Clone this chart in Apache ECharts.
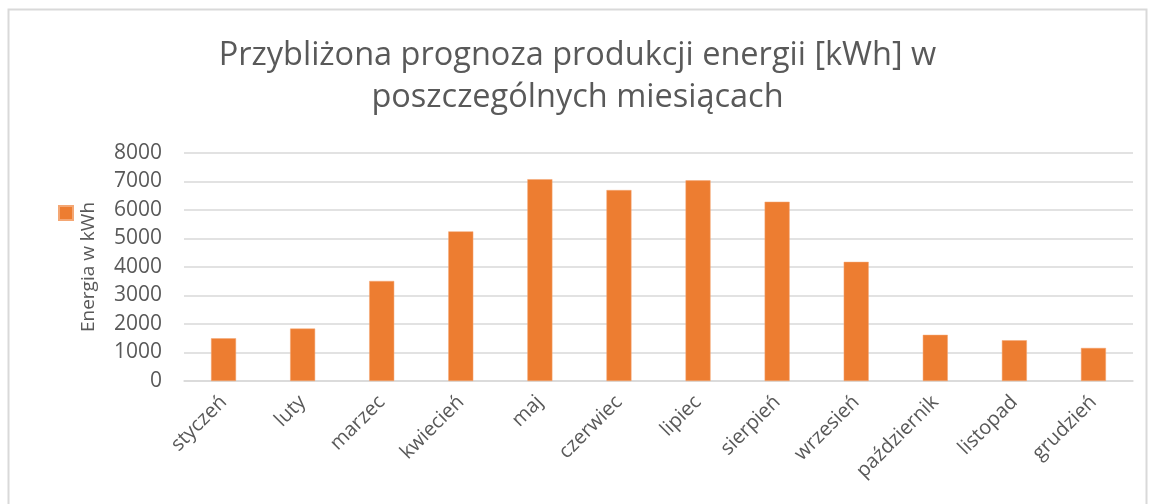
<!DOCTYPE html>
<html>
<head>
<meta charset="utf-8">
<script src="https://cdn.jsdelivr.net/npm/echarts@6/dist/echarts.min.js"></script>
<style>
  html, body { margin: 0; padding: 0; background: #fff; }
  #chart { width: 1155px; height: 504px; }
</style>
</head>
<body>
<div id="chart"></div>
<script>
// miesiące
const months = ["styczeń", "luty", "marzec", "kwiecień", "maj", "czerwiec",
  "lipiec", "sierpień", "wrzesień", "październik", "listopad", "grudzień"];
// prognoza produkcji [kWh]
const energy = [1500, 1840, 3510, 5250, 7080, 6700, 7040, 6290, 4180, 1620, 1430, 1160];
const yTicks = [0, 1000, 2000, 3000, 4000, 5000, 6000, 7000, 8000];

const textColor = '#595959';
const font = '"Open Sans", "Noto Sans", sans-serif';

const chart = echarts.init(document.getElementById('chart'));
chart.setOption({
  animation: false,
  textStyle: { fontFamily: font },
  title: {
    text: 'Przybliżona prognoza produkcji energii [kWh] w\nposzczególnych miesiącach',
    left: 'center',
    top: 30,
    textStyle: { fontSize: 32.5, fontWeight: 'normal', color: textColor, lineHeight: 42, fontFamily: font }
  },
  legend: {
    left: 53,
    top: 200,
    icon: 'rect',
    itemWidth: 14,
    itemHeight: 14,
    formatter: () => '',
    data: ['Energia']
  },
  grid: { left: 184, right: 22, top: 153, bottom: 123 },
  xAxis: {
    type: 'category',
    data: months,
    axisLine: { lineStyle: { color: '#d9d9d9', width: 1.5 } },
    axisTick: { show: false },
    axisLabel: { rotate: 45, color: textColor, fontSize: 20, margin: 18, interval: 0 }
  },
  yAxis: {
    type: 'value',
    min: yTicks[0],
    max: yTicks[yTicks.length - 1],
    interval: 1000,
    name: 'Energia w kWh',
    nameLocation: 'middle',
    nameGap: 86,
    nameTextStyle: { fontSize: 19, color: textColor },
    axisLine: { show: false },
    axisTick: { show: false },
    axisLabel: { color: textColor, fontSize: 21, margin: 22, formatter: v => String(v) },
    splitLine: { lineStyle: { color: '#d9d9d9', width: 1.5 } }
  },
  series: [{
    name: 'Energia',
    type: 'bar',
    data: energy,
    barWidth: 25,
    itemStyle: { color: '#ED7D31', borderColor: '#f4a774', borderWidth: 0.5 }
  }],
  graphic: [{
    type: 'rect',
    shape: { x: 8.5, y: 9.5, width: 1138, height: 520 },
    style: { fill: 'none', stroke: '#d9d9d9', lineWidth: 2 },
    silent: true
  }]
});
</script>
</body>
</html>
